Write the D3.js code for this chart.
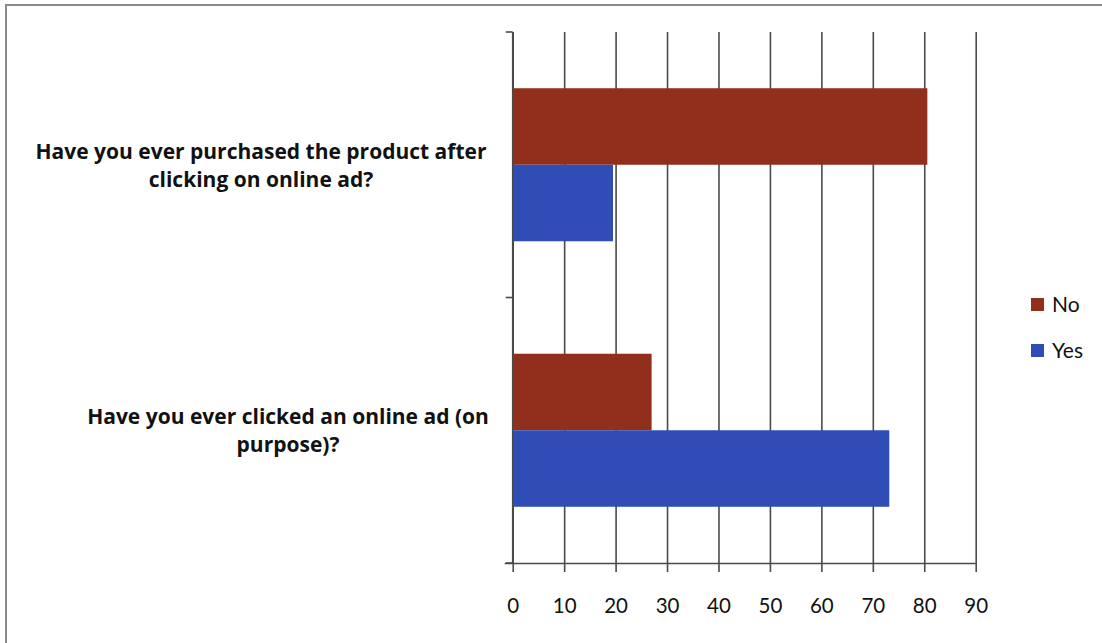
<!DOCTYPE html>
<html>
<head>
<meta charset="utf-8">
<script src="https://cdn.jsdelivr.net/npm/d3@7/dist/d3.min.js"></script>
<style>
  html, body { margin: 0; padding: 0; background: #fff; }
  svg { display: block; }
</style>
</head>
<body>
<svg id="chart" width="1102" height="643"></svg>
<script>
// Survey questions (top to bottom) and their wrapped label lines
const categories = [
  "Have you ever purchased the product after clicking on online ad?",
  "Have you ever clicked an online ad (on purpose)?"
];
const categoryLines = [
  ["Have you ever purchased the product after", "clicking on online ad?"],
  ["Have you ever clicked an online ad (on", "purpose)?"]
];
const seriesNames = ["No", "Yes"];
const noValues = [80.6, 27.0];
const yesValues = [19.5, 73.2];
const xTicks = [0, 10, 20, 30, 40, 50, 60, 70, 80, 90];
const seriesColors = ["#912f1c", "#2f4db5"];

const svg = d3.select("#chart");
const plot = { left: 512.7, right: 975.7, top: 32, bottom: 563 };

const x = d3.scaleLinear().domain([0, 90]).range([plot.left, plot.right]);
const y = d3.scaleBand().domain(categories).range([plot.top, plot.bottom]).padding(0);
const ySeries = d3.scaleBand().domain(seriesNames)
  .range([0, y.bandwidth()]).paddingInner(0).paddingOuter(0.735);
const color = d3.scaleOrdinal().domain(seriesNames).range(seriesColors);

// outer chart frame
svg.append("rect")
  .attr("x", 6).attr("y", 5).attr("width", 1200).attr("height", 700)
  .attr("fill", "none").attr("stroke", "#8a8a8a").attr("stroke-width", 2);

// vertical gridlines
svg.append("g")
  .attr("transform", `translate(0,${plot.bottom})`)
  .call(d3.axisBottom(x).tickValues(xTicks).tickSize(-(plot.bottom - plot.top)).tickFormat(""))
  .call(g => g.select(".domain").remove())
  .call(g => g.selectAll("line").attr("stroke", "#4a4a4a").attr("stroke-width", 1.6));

// bars
const rows = categories.map((c, i) => ({ category: c, values: [
  { key: "No", value: noValues[i] },
  { key: "Yes", value: yesValues[i] }
]}));

const groups = svg.append("g").selectAll("g")
  .data(rows).join("g")
  .attr("transform", d => `translate(0,${y(d.category)})`);

groups.selectAll("rect")
  .data(d => d.values).join("rect")
  .attr("x", x(0))
  .attr("y", d => ySeries(d.key))
  .attr("width", d => x(d.value) - x(0))
  .attr("height", ySeries.bandwidth())
  .attr("fill", d => color(d.key));

// bottom axis with ticks and labels
svg.append("g")
  .attr("transform", `translate(0,${plot.bottom})`)
  .call(d3.axisBottom(x).tickValues(xTicks).tickSize(9).tickPadding(26).tickFormat(d3.format("d")))
  .call(g => g.select(".domain").attr("stroke", "#4a4a4a").attr("stroke-width", 1.6)
      .attr("d", `M${plot.left - 8},0.5H${plot.right}`))
  .call(g => g.selectAll("line").attr("stroke", "#4a4a4a").attr("stroke-width", 1.6))
  .call(g => g.selectAll("text")
      .attr("fill", "#111")
      .style("font-family", "Lato, 'Open Sans', sans-serif")
      .style("font-size", "20.5px"));

// left axis: category boundary ticks
const boundaries = [plot.top, y(categories[1]), plot.bottom];
const leftAxis = svg.append("g");
leftAxis.append("line")
  .attr("x1", plot.left).attr("x2", plot.left)
  .attr("y1", plot.top).attr("y2", plot.bottom)
  .attr("stroke", "#4a4a4a").attr("stroke-width", 1.6);
leftAxis.selectAll("line.tick")
  .data(boundaries).join("line")
  .attr("class", "tick")
  .attr("x1", plot.left - 7).attr("x2", plot.left)
  .attr("y1", d => d).attr("y2", d => d)
  .attr("stroke", "#4a4a4a").attr("stroke-width", 1.6);

// category labels, centred blocks to the left of the axis
const labelCenters = [261, 288];
categories.forEach((c, i) => {
  const lines = categoryLines[i];
  const cy = y(c) + y.bandwidth() / 2;
  const lh = 28;
  const t = svg.append("text")
    .attr("text-anchor", "middle")
    .attr("fill", "#111")
    .style("font-family", "'Open Sans', Lato, sans-serif")
    .style("font-weight", "bold")
    .style("font-size", "21px");
  lines.forEach((ln, j) => {
    t.append("tspan")
      .attr("x", labelCenters[i])
      .attr("y", cy - 6 + j * lh)
      .text(ln);
  });
});

// legend
const legend = svg.append("g").attr("transform", "translate(1031,298)");
const li = legend.selectAll("g").data(seriesNames).join("g")
  .attr("transform", (d, i) => `translate(0,${i * 46})`);
li.append("rect").attr("width", 13).attr("height", 13).attr("fill", d => color(d));
li.append("text")
  .attr("x", 21).attr("y", 14)
  .attr("fill", "#111")
  .style("font-family", "Lato, 'Open Sans', sans-serif")
  .style("font-size", "21px")
  .text(d => d);
</script>
</body>
</html>
